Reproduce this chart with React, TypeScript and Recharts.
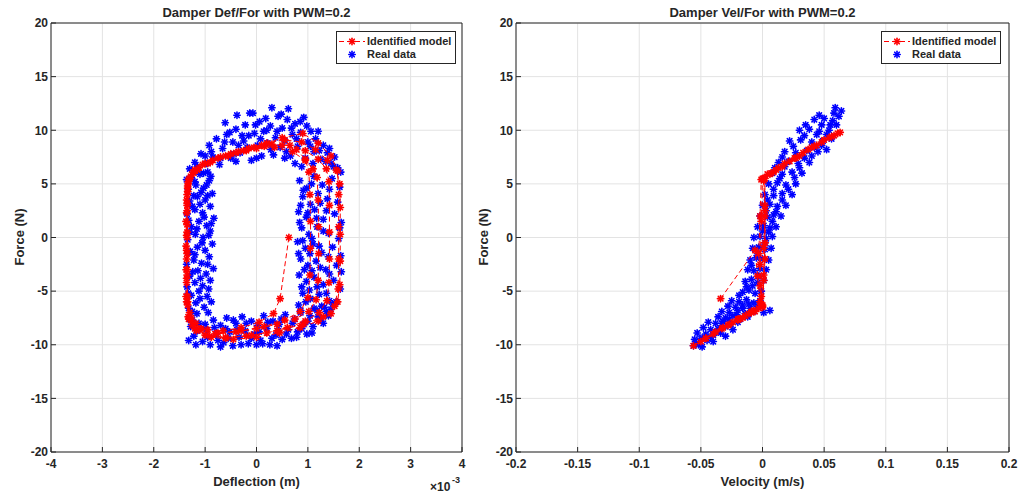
import React from "react";
import { CartesianGrid, Scatter, ScatterChart, XAxis, YAxis } from "recharts";

const FONT = '"Liberation Sans", Arial, Helvetica, sans-serif';
const INK = "#262626";
const RED = "#ff0000";
const BLUE = "#0000ff";

// tick values
const defTicks = [-4, -3, -2, -1, 0, 1, 2, 3, 4];
const velTicks = [-0.2, -0.15, -0.1, -0.05, 0, 0.05, 0.1, 0.15, 0.2];
const forceTicks = [-20, -15, -10, -5, 0, 5, 10, 15, 20];

type Pt = [number, number];

// deflection (x1e-3 m) vs force (N), identified model, in time order
const defModel: Pt[] = [
  [0.63, 0], [0.46, -5.7], [0.33, -7.1], [0.05, -7.9], [-0.3, -8.4], [-0.65, -8.7], [-0.95, -8.6], [-1.18, -8.0],
  [-1.3, -7.0], [-1.34, -5.5], [-1.35, -3.5], [-1.35, -1.5], [-1.35, 0.5], [-1.35, 2.5], [-1.34, 4.3], [-1.32, 5.4],
  [-1.2, 6.3], [-1.0, 6.9], [-0.7, 7.5], [-0.35, 8.0], [0.0, 8.3], [0.35, 8.4], [0.7, 8.0], [0.95, 7.2],
  [1.1, 6.4], [1.18, 5.6], [1.2, 3.5], [1.21, 1.0], [1.21, -1.5], [1.2, -4.0], [1.16, -5.8], [1.02, -6.9],
  [0.75, -7.6], [0.4, -8.1], [0.0, -8.5],
  [-0.4, -8.8], [-0.8, -9.0], [-1.1, -8.6], [-1.28, -7.7], [-1.34, -6.3], [-1.36, -4.2], [-1.36, -2.0], [-1.36, 0.2],
  [-1.36, 2.3], [-1.35, 4.0], [-1.33, 5.2], [-1.24, 6.1], [-1.05, 6.8], [-0.75, 7.4], [-0.4, 7.9], [-0.05, 8.4],
  [0.3, 8.7], [0.65, 8.6], [0.95, 8.1], [1.2, 7.3], [1.36, 6.4], [1.41, 5.2], [1.42, 3.0], [1.42, 0.5],
  [1.42, -2.0], [1.41, -4.2], [1.37, -5.9], [1.22, -7.0], [0.95, -7.8], [0.6, -8.4], [0.2, -8.9], [-0.2, -9.2],
  [-0.6, -9.3], [-0.95, -9.1], [-1.2, -8.5], [-1.33, -7.4], [-1.37, -5.5], [-1.37, -3.0], [-1.37, -0.8], [-1.37, 1.5],
  [-1.36, 3.5], [-1.34, 4.8], [-1.28, 5.7], [-1.12, 6.5], [-0.85, 7.2], [-0.5, 7.8], [-0.15, 8.3], [0.2, 8.8],
  [0.55, 9.1], [0.88, 8.9], [1.15, 8.2], [1.38, 7.2], [1.55, 6.3], [1.62, 5.0], [1.63, 2.8], [1.63, 0.3],
  [1.63, -2.2], [1.62, -4.4], [1.58, -6.0], [1.45, -7.1], [1.2, -7.8], [0.85, -8.4], [0.45, -8.9], [0.0, -9.3],
  [-0.45, -9.5], [-0.88, -9.3], [-1.17, -8.7], [-1.32, -7.6], [-1.36, -6.0], [-1.36, -3.8], [-1.36, -1.2], [-1.35, 1.2],
  [-1.35, 3.2], [-1.34, 4.6], [-1.3, 5.5], [-1.15, 6.3], [-0.9, 7.0], [-0.55, 7.6], [-0.2, 8.1], [0.15, 8.5],
  [0.5, 8.6], [0.78, 8.2], [0.95, 7.3], [1.02, 6.1], [1.04, 4.0], [1.05, 1.5], [1.05, -1.0], [1.04, -3.5],
  [1.0, -5.6], [0.85, -6.9], [0.55, -7.7], [0.15, -8.3], [-0.3, -8.7],
  [-0.75, -8.9], [-1.08, -8.5], [-1.27, -7.5], [-1.34, -6.0], [-1.35, -3.0], [-1.35, 0.0], [-1.35, 3.0], [-1.33, 5.0],
  [-1.22, 6.0], [-0.95, 6.9], [-0.6, 7.6], [-0.25, 8.1], [0.1, 8.6], [0.5, 9.3], [0.9, 9.7], [1.2, 8.8],
  [1.45, 7.6], [1.58, 6.2], [1.6, 4.0], [1.6, 1.0], [1.6, -2.0], [1.59, -4.8], [1.52, -6.4], [1.3, -7.4],
  [0.9, -8.1], [0.4, -8.7], [-0.1, -9.1], [-0.6, -9.4], [-1.0, -9.1], [-1.25, -8.2],
];

// deflection vs force, measured
const defRealLeft: Pt[] = [
  [-1.32, -6.6], [-1.18, -6.1], [-1.02, -6.5], [-0.88, -6.0], [-1.27, -5.4], [-1.12, -5.0], [-0.96, -5.5], [-1.35, -4.6],
  [-1.2, -4.2], [-1.05, -4.5], [-0.9, -4.0], [-1.3, -3.6], [-1.14, -3.1], [-0.98, -3.4], [-0.84, -2.9], [-1.36, -2.5],
  [-1.22, -2.1], [-1.07, -2.4], [-0.92, -1.8], [-1.29, -1.3], [-1.15, -0.9], [-1.0, -1.2], [-0.86, -0.6], [-1.34, -0.2],
  [-1.19, 0.3], [-1.04, 0.0], [-0.9, 0.6], [-1.27, 1.0], [-1.12, 1.5], [-0.97, 1.1], [-0.83, 1.8], [-1.35, 2.2],
  [-1.2, 2.6], [-1.05, 2.3], [-0.9, 2.9], [-1.3, 3.4], [-1.15, 3.8], [-1.0, 3.5], [-0.86, 4.1], [-1.33, 4.5],
  [-1.18, 4.9], [-1.03, 4.6], [-0.92, 5.3], [-1.27, 5.6], [-1.1, 5.9], [-0.95, 6.1], [-1.3, 6.4], [-1.16, -7.1],
  [-1.3, -7.6], [-0.94, -7.0],
  [-1.25, -6.9], [-1.1, -5.7], [-0.93, -4.8], [-1.33, -5.2], [-1.24, -3.2], [-1.09, -3.8], [-0.95, -2.5], [-1.33, -1.4],
  [-1.2, -1.6], [-1.06, -0.5], [-0.93, 0.2], [-1.3, 0.5], [-1.16, 0.8], [-1.02, 1.9], [-0.88, 1.3], [-1.32, 1.6],
  [-1.25, 2.9], [-1.1, 3.1], [-0.95, 3.9], [-1.22, 3.9], [-1.08, 4.2], [-0.97, 4.9], [-1.2, 5.2], [-1.36, 5.4],
  [-1.03, 6.0], [-0.89, 5.7],
];
const defRealTop: Pt[] = [
  [-1.2, 7.0], [-1.08, 7.8], [-0.98, 6.9], [-0.92, 8.6], [-0.85, 7.5], [-0.78, 9.2], [-0.72, 6.8], [-0.66, 8.3],
  [-0.61, 10.7], [-0.58, 9.6], [-0.5, 7.4], [-0.46, 8.9], [-0.4, 10.1], [-0.38, 11.4], [-0.32, 7.9], [-0.28, 9.5],
  [-0.22, 10.5], [-0.18, 8.4], [-0.13, 11.6], [-0.1, 7.2], [-0.07, 11.6], [-0.04, 9.7], [0.02, 8.6], [0.06, 10.8],
  [0.1, 7.6], [0.14, 9.9], [0.18, 11.1], [0.22, 8.8], [0.27, 10.4], [0.3, 12.1], [0.33, 7.7], [0.37, 9.3],
  [0.42, 11.3], [0.46, 8.4], [0.5, 10.2], [0.55, 9.0], [0.6, 11.0], [0.62, 12.0], [0.66, 7.6], [0.7, 9.6],
  [0.75, 10.6], [0.8, 8.5], [0.86, 9.8], [0.92, 11.2], [0.95, 7.4], [1.0, 8.9], [1.06, 9.9], [1.12, 8.0],
  [1.2, 9.9], [1.25, 7.3], [1.3, 8.6], [1.38, 7.9], [1.45, 6.9], [1.52, 7.5], [1.58, 6.5], [1.64, 6.1],
  [0.88, 6.6], [1.1, 6.9],
  [-1.15, 6.6], [-1.0, 7.6], [-0.88, 8.0], [-0.7, 7.4], [-0.62, 8.9], [-0.52, 9.8], [-0.44, 7.8], [-0.35, 8.6],
  [-0.25, 9.0], [-0.15, 9.5], [-0.02, 10.5], [0.08, 9.2], [0.2, 10.0], [0.28, 8.2], [0.4, 9.9], [0.48, 11.5],
  [0.58, 8.0], [0.68, 10.2], [0.78, 9.2], [0.85, 10.8], [0.98, 10.4], [1.05, 8.5], [1.15, 9.2], [1.22, 8.1],
  [1.35, 7.1], [1.42, 8.3], [1.5, 6.6], [0.75, 6.9], [0.55, 7.4], [0.0, 7.4], [-0.4, 7.1],
];
const defRealRight: Pt[] = [
  [0.84, 5.3], [0.98, 4.6], [1.12, 5.7], [1.28, 4.9], [1.47, 5.5], [1.62, 4.7], [0.9, 3.8], [1.05, 3.1],
  [1.2, 4.1], [1.38, 3.6], [1.58, 3.3], [0.82, 2.4], [0.97, 1.9], [1.13, 2.6], [1.3, 1.7], [1.52, 2.2],
  [1.65, 1.4], [0.88, 0.9], [1.02, 0.3], [1.18, 1.0], [1.4, 0.4], [1.6, -0.1], [0.8, -0.4], [0.95, -1.0],
  [1.1, -0.6], [1.27, -1.4], [1.48, -0.9], [1.64, -1.7], [0.86, -2.0], [1.0, -2.6], [1.16, -2.2], [1.35, -3.0],
  [1.56, -2.6], [0.83, -3.5], [0.97, -4.1], [1.12, -3.7], [1.3, -4.4], [1.5, -4.0], [1.63, -4.8], [0.9, -5.2],
  [1.05, -5.7], [1.22, -5.3], [1.42, -5.9], [0.82, -6.3], [1.12, -6.6], [1.55, -6.0], [1.65, -3.2], [1.62, 0.9],
  [0.91, 4.4], [1.07, 5.0], [1.24, 3.2], [1.42, 4.5], [0.86, 3.0], [1.0, 2.3], [1.17, 1.8], [1.36, 2.5],
  [0.84, 1.4], [1.08, -0.1], [1.3, 0.6], [0.9, -0.3], [1.04, -1.5], [1.22, -0.8], [1.4, -1.8], [0.82, -1.5],
  [0.93, -3.0], [1.08, -3.1], [1.24, -2.8], [1.42, -3.4], [0.88, -4.6], [1.03, -4.9], [1.18, -4.6], [1.36, -5.2],
  [0.96, -6.0], [1.27, -6.4], [0.86, -6.8],
];
const defRealBottom: Pt[] = [
  [-1.28, -8.3], [-1.22, -9.2], [-1.12, -8.0], [-1.05, -9.7], [-0.98, -8.6], [-0.9, -10.0], [-0.84, -7.7], [-0.78, -9.0],
  [-0.7, -8.2], [-0.64, -9.8], [-0.58, -7.5], [-0.52, -8.8], [-0.46, -10.1], [-0.4, -8.0], [-0.34, -9.3], [-0.28, -7.4],
  [-0.22, -8.7], [-0.16, -9.9], [-0.1, -7.8], [-0.04, -9.0], [0.02, -8.2], [0.08, -9.6], [0.14, -7.3], [0.2, -8.5],
  [0.26, -10.0], [0.32, -7.8], [0.38, -9.1], [0.44, -8.1], [0.5, -9.5], [0.56, -7.2], [0.62, -8.6], [0.68, -9.4],
  [0.74, -7.6], [0.8, -8.8], [0.86, -7.0], [0.92, -8.1], [0.98, -9.0], [1.04, -7.3], [1.1, -8.3], [1.18, -6.8],
  [1.25, -7.7], [1.32, -6.5], [1.4, -7.3], [1.48, -6.2], [-1.32, -9.6], [-1.18, -10.0], [-0.7, -10.2], [0.0, -10.0],
  [0.4, -10.1],
  [-1.25, -7.7], [-1.15, -8.7], [-1.0, -8.1], [-0.95, -9.3], [-0.82, -8.4], [-0.75, -9.6], [-0.6, -8.5], [-0.55, -9.4],
  [-0.45, -7.7], [-0.38, -8.6], [-0.3, -10.0], [-0.2, -8.0], [-0.1, -9.4], [0.05, -8.8], [0.12, -9.9], [0.22, -7.9],
  [0.3, -9.4], [0.42, -8.7], [0.48, -7.6], [0.58, -9.0], [0.7, -8.0], [0.78, -9.3], [0.88, -8.5], [1.0, -7.8],
  [1.08, -8.9], [1.2, -7.4], [1.3, -8.0], [1.36, -6.9], [1.45, -6.7],
];

// velocity (m/s) vs force (N), identified model, in time order
const velModel: Pt[] = [
  [-0.034, -5.7], [-0.006, -1.2], [-0.004, -3.6], [-0.002, -6.0], [-0.009, -6.9], [-0.02, -7.6], [-0.033, -8.5], [-0.046, -9.4],
  [-0.056, -10.1], [-0.046, -9.4], [-0.032, -8.4], [-0.019, -7.6], [-0.007, -6.8], [0.0, -6.3], [0.001, -3.5], [0.002, -0.5],
  [0.002, 2.5], [0.001, 5.3], [0.006, 5.9], [0.016, 6.6], [0.03, 7.6], [0.044, 8.6], [0.056, 9.4], [0.063, 9.8],
  [0.054, 9.3], [0.04, 8.4], [0.026, 7.4], [0.013, 6.5], [0.004, 5.9], [-0.001, 5.4], [-0.002, 2.0], [-0.003, -1.5],
  [-0.002, -4.5], [-0.001, -6.2], [-0.011, -7.1], [-0.024, -7.9], [-0.038, -8.8], [-0.05, -9.7], [-0.04, -9.0], [-0.027, -8.1],
  [-0.014, -7.3], [-0.003, -6.6], [0.001, -4.0], [0.001, -1.0], [0.002, 2.0], [0.002, 5.5], [0.009, 6.1], [0.022, 7.1],
  [0.037, 8.2], [0.05, 9.1], [0.061, 9.7], [0.048, 8.9], [0.033, 7.9], [0.018, 6.9], [0.007, 6.0], [0.0, 5.5],
  [-0.001, 1.5], [-0.002, -2.5], [-0.001, -5.5], [0.0, -6.4], [-0.006, -6.9], [-0.016, -7.5], [-0.028, -8.2], [-0.02, -7.7],
  [-0.009, -7.0], [0.0, -6.5], [0.002, -2.0], [0.002, 3.0], [0.001, 5.5], [0.011, 6.3], [0.027, 7.4], [0.042, 8.5],
  [0.058, 9.5],
];

// velocity vs force, measured
const velRealLow: Pt[] = [
  [-0.056, -10.1], [-0.052, -10.0], [-0.049, -10.2], [-0.055, -9.5], [-0.05, -9.4], [-0.045, -9.6], [-0.04, -9.7],
  [-0.053, -8.9], [-0.046, -9.0], [-0.04, -9.1], [-0.034, -8.9], [-0.03, -9.2], [-0.048, -8.4], [-0.042, -8.6],
  [-0.036, -8.5], [-0.03, -8.3], [-0.024, -8.6], [-0.044, -7.9], [-0.038, -8.0], [-0.032, -7.8], [-0.026, -8.1],
  [-0.02, -7.9], [-0.036, -7.4], [-0.03, -7.5], [-0.024, -7.3], [-0.018, -7.6], [-0.012, -7.4], [-0.033, -6.9],
  [-0.027, -7.0], [-0.02, -6.8], [-0.014, -7.1], [-0.007, -6.9], [0.001, -7.0], [-0.028, -6.4], [-0.022, -6.5],
  [-0.016, -6.3], [-0.01, -6.6], [-0.004, -6.4], [-0.025, -5.9], [-0.019, -6.0], [-0.013, -5.8], [-0.007, -6.1],
  [-0.002, -5.9],
  [-0.054, -9.9], [-0.047, -9.3], [-0.042, -9.3], [-0.037, -8.8], [-0.033, -8.0], [-0.027, -7.6], [-0.021, -7.2],
  [-0.016, -6.6], [-0.011, -6.2], [0.006, -6.8],
];
const velRealMid: Pt[] = [
  [-0.016, -5.1], [-0.011, -4.9], [-0.006, -5.2], [-0.001, -5.0], [-0.014, -4.1], [-0.009, -3.9], [-0.004, -4.2],
  [0.001, -4.0], [-0.012, -3.0], [-0.007, -3.1], [-0.002, -2.9], [0.003, -3.0], [-0.01, -2.1], [-0.005, -1.9],
  [0.0, -2.0], [0.005, -2.1], [-0.008, -1.0], [-0.003, -0.9], [0.002, -1.1], [0.007, -1.0], [-0.007, 0.0],
  [-0.002, 0.1], [0.003, -0.1], [0.008, 0.1], [-0.004, 1.0], [0.001, 1.1], [0.006, 0.9], [0.011, 1.0],
  [-0.002, 2.0], [0.004, 1.9], [0.009, 2.1], [0.015, 2.0], [0.0, 3.0], [0.006, 3.1], [0.012, 2.9], [0.019, 3.0],
  [-0.019, -5.4], [-0.013, -4.6], [-0.008, -4.5], [-0.003, -3.6], [-0.009, -2.6], [-0.004, -1.5], [0.002, -0.5],
  [0.005, 0.5], [0.0, 0.6], [0.008, 1.5], [0.003, 2.5], [0.011, 2.4], [0.016, 3.5], [0.004, 3.5],
];
const velRealHigh: Pt[] = [
  [0.002, 4.0], [0.009, 3.9], [0.016, 4.1], [0.024, 4.0], [0.005, 5.0], [0.012, 5.1], [0.019, 4.9], [0.027, 5.0],
  [0.008, 6.0], [0.016, 5.9], [0.024, 6.1], [0.032, 6.0], [0.013, 7.0], [0.021, 7.1], [0.029, 6.9], [0.038, 7.0],
  [0.018, 8.0], [0.027, 7.9], [0.036, 8.1], [0.045, 8.0], [0.052, 8.2], [0.022, 9.0], [0.031, 9.1], [0.04, 8.9],
  [0.049, 9.0], [0.056, 9.2], [0.03, 10.0], [0.038, 10.1], [0.046, 9.9], [0.054, 10.0], [0.06, 10.5], [0.042, 11.0],
  [0.05, 11.1], [0.057, 10.9], [0.062, 11.3], [0.059, 12.1], [0.064, 11.8],
  [0.021, 4.5], [0.009, 4.5], [0.014, 5.5], [0.026, 5.6], [0.03, 6.5], [0.01, 6.5], [0.018, 6.6], [0.034, 7.4],
  [0.016, 7.5], [0.025, 8.5], [0.042, 8.4], [0.048, 8.6], [0.034, 9.5], [0.044, 9.6], [0.052, 9.6], [0.035, 10.5],
  [0.048, 10.5], [0.055, 10.5], [0.046, 11.4], [0.058, 11.6], [0.04, 7.6],
];

const toRows = (pts: Pt[]) => pts.map(([x, y]) => ({ x, y }));

const Star = ({ cx, cy, color }: { cx?: number; cy?: number; color: string }) => {
  if (cx == null || cy == null) return null;
  const r = 3.2, d = 2.3;
  return (
    <g stroke={color} strokeWidth={1.6} strokeLinecap="round">
      <circle cx={cx} cy={cy} r={1.6} fill={color} stroke="none" />
      <line x1={cx - r} y1={cy} x2={cx + r} y2={cy} />
      <line x1={cx} y1={cy - r} x2={cx} y2={cy + r} />
      <line x1={cx - d} y1={cy - d} x2={cx + d} y2={cy + d} />
      <line x1={cx - d} y1={cy + d} x2={cx + d} y2={cy - d} />
    </g>
  );
};

const Legend = ({ left }: { left: number }) => (
  <div
    style={{
      position: "absolute", left, top: 31, width: 118, height: 31, border: `1px solid ${INK}`,
      background: "#fff", fontFamily: FONT, fontWeight: "bold", fontSize: 11, color: INK,
    }}
  >
    <svg width={30} height={31} style={{ position: "absolute", left: 0, top: 0 }}>
      <line x1={2} y1={9.5} x2={28} y2={9.5} stroke={RED} strokeDasharray="5 3" />
      <Star cx={15} cy={9.5} color={RED} />
      <Star cx={15} cy={22.5} color={BLUE} />
    </svg>
    <div style={{ position: "absolute", left: 30, top: 2, lineHeight: "14px" }}>Identified model</div>
    <div style={{ position: "absolute", left: 30, top: 15, lineHeight: "14px" }}>Real data</div>
  </div>
);

const tickStyle = { fill: INK, fontSize: 12, fontWeight: "bold", fontFamily: FONT };
const textBase: React.CSSProperties = {
  position: "absolute", fontFamily: FONT, fontWeight: "bold", fontSize: 13, color: INK, whiteSpace: "nowrap",
};

type PanelProps = {
  left: number;
  width: number;
  plotLeft: number;
  plotRight: number;
  yAxisWidth: number;
  xTicks: number[];
  model: Pt[];
  real: Pt[];
  title: string;
  xLabel: string;
  yLabelX: number;
  legendLeft: number;
  showExp?: boolean;
};

const Panel = (props: PanelProps) => {
  const { left, width, plotLeft, plotRight, yAxisWidth, xTicks, model, real, title, xLabel, yLabelX, legendLeft, showExp } = props;
  // plot box: x plotLeft..plotRight, y 23..452 (panel coords)
  const margin = { top: 22, right: width - plotRight - 1, bottom: 12, left: plotLeft - yAxisWidth };
  const cx = (plotLeft + plotRight) / 2;
  const xDomain = [xTicks[0], xTicks[xTicks.length - 1]];
  return (
    <div style={{ position: "absolute", left, top: 0, width, height: 494 }}>
      <ScatterChart width={width} height={494} margin={margin}>
        <CartesianGrid xAxisId="b" yAxisId="l" stroke="#e3e3e3" strokeWidth={1} />
        <XAxis
          xAxisId="b" type="number" dataKey="x" domain={xDomain} ticks={xTicks} interval={0}
          allowDataOverflow height={30} tickSize={-5} tickMargin={12} tick={tickStyle}
          tickFormatter={(v: number) => String(v)} axisLine={{ stroke: INK }} tickLine={{ stroke: INK }}
        />
        <XAxis
          xAxisId="t" orientation="top" type="number" domain={xDomain} ticks={xTicks} interval={0}
          allowDataOverflow height={1} tickSize={-5} tick={false} axisLine={{ stroke: INK }} tickLine={{ stroke: INK }}
        />
        <YAxis
          yAxisId="l" type="number" dataKey="y" domain={[-20, 20]} ticks={forceTicks} interval={0}
          allowDataOverflow width={yAxisWidth} tickSize={-5} tickMargin={8} tick={tickStyle}
          axisLine={{ stroke: INK }} tickLine={{ stroke: INK }}
        />
        <YAxis
          yAxisId="r" orientation="right" type="number" domain={[-20, 20]} ticks={forceTicks} interval={0}
          allowDataOverflow width={1} tickSize={-5} tick={false} axisLine={{ stroke: INK }} tickLine={{ stroke: INK }}
        />
        <Scatter
          name="Real data" data={toRows(real)} xAxisId="b" yAxisId="l" fill={BLUE}
          shape={(p: any) => <Star cx={p.cx} cy={p.cy} color={BLUE} />} isAnimationActive={false}
        />
        <Scatter
          name="Identified model" data={toRows(model)} xAxisId="b" yAxisId="l" fill={RED}
          line={{ stroke: RED, strokeWidth: 1, strokeDasharray: "5 3" }} lineJointType="linear"
          shape={(p: any) => <Star cx={p.cx} cy={p.cy} color={RED} />} isAnimationActive={false}
        />
      </ScatterChart>
      <div style={{ ...textBase, left: cx, top: 5, transform: "translateX(-50%)", lineHeight: "16px" }}>{title}</div>
      <div style={{ ...textBase, left: cx, top: 474, transform: "translateX(-50%)", lineHeight: "16px" }}>{xLabel}</div>
      <div
        style={{
          ...textBase, left: yLabelX, top: 237, transform: "translate(-50%, -50%) rotate(-90deg)", lineHeight: "16px",
        }}
      >
        Force (N)
      </div>
      {showExp && (
        <>
          <div style={{ ...textBase, left: 430, top: 481, fontSize: 12, lineHeight: "12px" }}>×10</div>
          <div style={{ ...textBase, left: 452, top: 476, fontSize: 9, lineHeight: "9px" }}>-3</div>
        </>
      )}
      <Legend left={legendLeft} />
    </div>
  );
};

export default function App() {
  return (
    <div style={{ position: "absolute", left: 0, top: 0, width: 1021, height: 494, background: "#fff" }}>
      <Panel
        left={0} width={490} plotLeft={51} plotRight={462} yAxisWidth={40} xTicks={defTicks}
        model={defModel} real={[...defRealLeft, ...defRealTop, ...defRealRight, ...defRealBottom]}
        title="Damper Def/For with PWM=0.2" xLabel="Deflection (m)" yLabelX={20} legendLeft={336} showExp
      />
      <Panel
        left={490} width={531} plotLeft={26} plotRight={519} yAxisWidth={22} xTicks={velTicks}
        model={velModel} real={[...velRealLow, ...velRealMid, ...velRealHigh]}
        title="Damper Vel/For with PWM=0.2" xLabel="Velocity (m/s)" yLabelX={-6} legendLeft={391}
      />
    </div>
  );
}
